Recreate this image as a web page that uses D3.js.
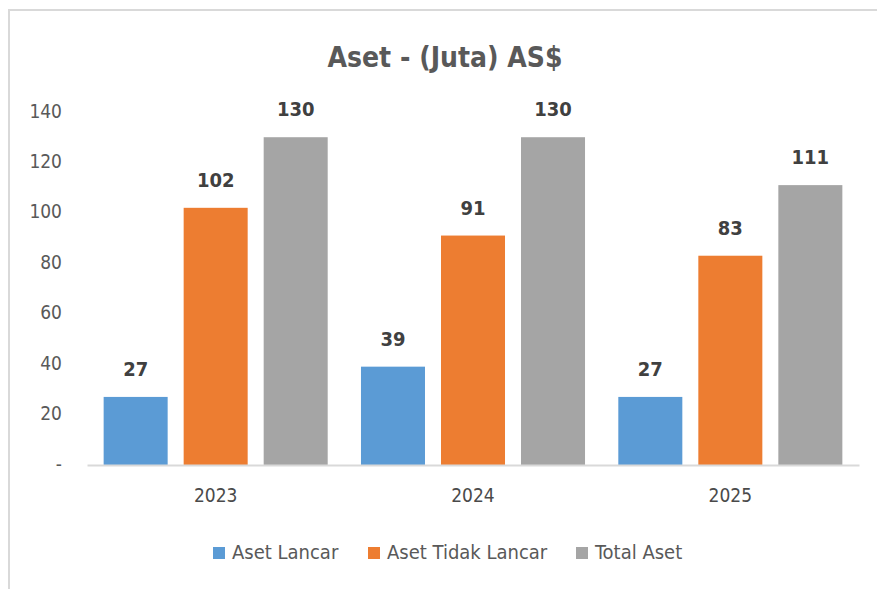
<!DOCTYPE html>
<html>
<head>
<meta charset="utf-8">
<script src="https://cdn.jsdelivr.net/npm/d3@7"></script>
<style>
  body { margin: 0; background: #fff; }
  svg text { font-family: "Liberation Sans Narrow", "DejaVu Sans Condensed", sans-serif; }
</style>
</head>
<body>
<div id="chart"></div>
<script>
// chart data
const years = ["2023", "2024", "2025"];
const seriesNames = ["Aset Lancar", "Aset Tidak Lancar", "Total Aset"];
const asetLancar = [27, 39, 27];
const asetTidakLancar = [102, 91, 83];
const totalAset = [130, 130, 111];
const yTicks = [0, 20, 40, 60, 80, 100, 120, 140];
const colors = ["#5B9BD5", "#ED7D31", "#A5A5A5"];

const seriesValues = [asetLancar, asetTidakLancar, totalAset];
const W = 877, H = 589;

const svg = d3.select("#chart").append("svg")
  .attr("width", W)
  .attr("height", H);

// outer frame (top and left edge only visible)
svg.append("path")
  .attr("d", "M9,589 L9,10 L877,10")
  .attr("fill", "none")
  .attr("stroke", "#d9d9d9")
  .attr("stroke-width", 2);

// title
svg.append("text")
  .attr("x", 445)
  .attr("y", 67)
  .attr("text-anchor", "middle")
  .attr("font-size", 28)
  .attr("font-weight", "bold")
  .attr("fill", "#595959")
  .text("Aset - (Juta) AS$");

// scales
const x0 = d3.scaleBand().domain(years).range([87, 859]);
const x1 = d3.scaleBand().domain(seriesNames).range([0, x0.bandwidth()])
  .paddingInner(0.2).paddingOuter(0.208);
const y = d3.scaleLinear().domain([0, 140]).range([465, 112]);

// y axis (labels only)
const yAxis = d3.axisLeft(y)
  .tickValues(yTicks)
  .tickSize(0)
  .tickPadding(0)
  .tickFormat((d) => (d === 0 ? "-" : d));
const gY = svg.append("g")
  .attr("transform", "translate(62,-1)")
  .call(yAxis);
gY.select(".domain").remove();
gY.selectAll(".tick text")
  .attr("font-size", 19)
  .attr("fill", "#595959")
  .attr("font-family", null);

// bars
seriesNames.forEach((name, s) => {
  svg.append("g")
    .selectAll("rect")
    .data(seriesValues[s])
    .enter()
    .append("rect")
    .attr("x", (d, i) => x0(years[i]) + x1(name))
    .attr("y", (d) => y(d))
    .attr("width", x1.bandwidth())
    .attr("height", (d) => y(0) - y(d))
    .attr("fill", colors[s]);

  // value labels
  svg.append("g")
    .selectAll("text")
    .data(seriesValues[s])
    .enter()
    .append("text")
    .attr("x", (d, i) => x0(years[i]) + x1(name) + x1.bandwidth() / 2)
    .attr("y", (d) => y(d) - 21)
    .attr("text-anchor", "middle")
    .attr("font-size", 20)
    .attr("font-weight", "bold")
    .attr("fill", "#404040")
    .text((d) => d);
});

// x axis
const xAxis = d3.axisBottom(x0).tickSize(0).tickPadding(0);
const gX = svg.append("g")
  .attr("transform", "translate(0,465)")
  .call(xAxis);
gX.select(".domain")
  .attr("stroke", "#d9d9d9")
  .attr("stroke-width", 2);
gX.selectAll(".tick text")
  .attr("y", 37)
  .attr("dy", 0)
  .attr("font-size", 19)
  .attr("fill", "#4a4a4a")
  .attr("font-family", null);

// legend
const legendX = [213, 368, 576];
const legend = svg.append("g");
seriesNames.forEach((name, s) => {
  legend.append("rect")
    .attr("x", legendX[s])
    .attr("y", 547)
    .attr("width", 12)
    .attr("height", 12)
    .attr("fill", colors[s]);
  legend.append("text")
    .attr("x", legendX[s] + 19)
    .attr("y", 559)
    .attr("font-size", 20)
    .attr("fill", "#595959")
    .text(name);
});
</script>
</body>
</html>
